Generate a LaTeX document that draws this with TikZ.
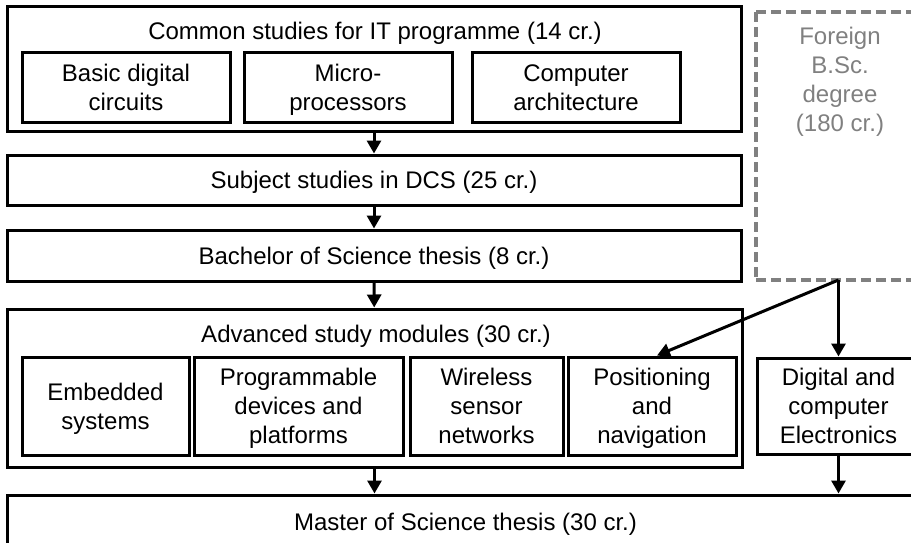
\documentclass[tikz,border=0pt]{standalone}
\usepackage{fontspec}
\setmainfont{Liberation Sans}
\usetikzlibrary{arrows.meta}
\definecolor{dgray}{RGB}{128,128,128}
\begin{document}
\begin{tikzpicture}[x=1pt,y=-1pt,
  bx/.style={draw=black, line width=3pt, inner sep=0pt, align=center, text depth=0pt, font=\fontsize{24}{29}\selectfont},
  lbl/.style={inner sep=0pt, anchor=base, font=\fontsize{24}{29}\selectfont},
  arr/.style={line width=3pt, -{Triangle[width=14pt,length=13pt]}},
  dsh/.style={draw=dgray, line width=3.5pt, dash pattern=on 10pt off 5pt}
]
\path[use as bounding box] (0,0) rectangle (911,543);
\clip (0,0) rectangle (911,543);

% top block
\node[bx, minimum width=734, minimum height=124] (common) at (374,69) {};
\node[lbl] (commontitle) at (375,40) {Common studies for IT programme (14 cr.)};
\node[bx, minimum width=208, minimum height=69] (basic) at (126,87.5) {Basic digital\\circuits};
\node[bx, minimum width=208, minimum height=69] (micro) at (348,87.5) {Micro-\\processors};
\node[bx, minimum width=208, minimum height=69] (comp) at (576,87.5) {Computer\\architecture};

\node[bx, minimum width=734, minimum height=50] (subject) at (374,180) {Subject studies in DCS (25 cr.)};
\node[bx, minimum width=734, minimum height=51] (bachelor) at (374,255.5) {Bachelor of Science thesis (8 cr.)};

% advanced block
\node[bx, minimum width=735, minimum height=158] (adv) at (374.5,388) {};
\node[lbl] (advtitle) at (376,342) {Advanced study modules (30 cr.)};
\node[bx, minimum width=167, minimum height=98] (emb) at (105.5,406) {Embedded\\systems};
\node[bx, minimum width=209, minimum height=98] (prog) at (298.5,406) {Programmable\\devices and\\platforms};
\node[bx, minimum width=153, minimum height=98] (wsn) at (486.5,406) {Wireless\\sensor\\networks};
\node[bx, minimum width=168, minimum height=98] (pos) at (652,406) {Positioning\\and\\navigation};

\node[bx, minimum width=163, minimum height=96] (dig) at (838.5,406) {Digital and\\computer\\Electronics};

\node[bx, minimum width=917, minimum height=53] (master) at (465.5,521.5) {Master of Science thesis (30 cr.)};

% foreign degree (dashed)
\node[inner sep=0pt, outer sep=0pt, minimum width=168, minimum height=268] (foreign) at (840,146) {};
\draw[dsh] (foreign.north west) -- (foreign.north east);
\draw[dsh] (foreign.north west) -- (foreign.south west);
\draw[dsh] (foreign.south west) -- (foreign.south east);
\node[inner sep=0pt, anchor=north, align=center, text=dgray, font=\fontsize{24}{29}\selectfont] (foreigntxt) at (840,27) {Foreign\\B.Sc.\\degree\\(180 cr.)};

% connectors
\draw[arr] (common) -- (subject);
\draw[arr] (subject) -- (bachelor);
\draw[arr] (bachelor) -- (adv);
\draw[arr] (adv.south) -- (adv.south |- master.north);
\draw[arr] (dig.north |- foreign.south) -- (dig.north);
\draw[arr] (dig.north |- foreign.south) -- ([xshift=5pt]pos.north);
\draw[arr] (dig.south) -- (dig.south |- master.north);
\end{tikzpicture}
\end{document}
